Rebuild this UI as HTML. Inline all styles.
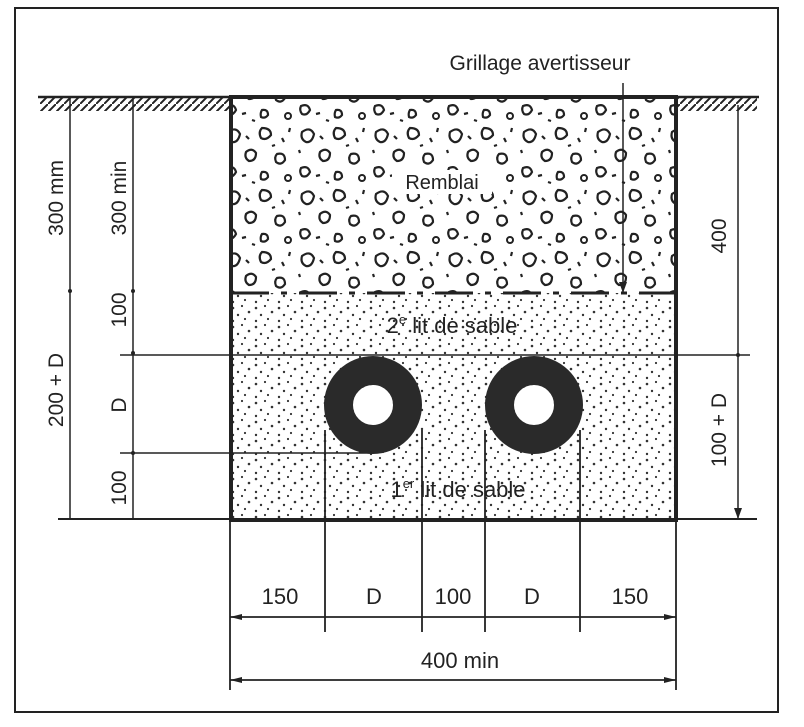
<!DOCTYPE html>
<html><head><meta charset="utf-8"><style>
body{margin:0;background:#fff}
svg{display:block}
text{font-family:"Liberation Sans",sans-serif;fill:#222}
</style></head><body>
<svg width="804" height="727" viewBox="0 0 804 727" xmlns="http://www.w3.org/2000/svg">
<defs>
<pattern id="sand" width="23" height="19" patternUnits="userSpaceOnUse">
<circle cx="3" cy="4" r="1.3" fill="#333"/><circle cx="12" cy="2" r="1.1" fill="#333"/>
<circle cx="19" cy="8" r="1.3" fill="#333"/><circle cx="8" cy="11" r="1.2" fill="#333"/>
<circle cx="15" cy="15" r="1.1" fill="#333"/><circle cx="3" cy="17" r="1.2" fill="#333"/>
</pattern>
<pattern id="grav" width="74" height="62" patternUnits="userSpaceOnUse">
<path d="M6 8q8-6 12 2q-2 9-8 8q-6-3-4-10z" fill="none" stroke="#222" stroke-width="2.2"/>
<path d="M40 4q9 0 9 7q-5 6-10 3q-3-6 1-10z" fill="none" stroke="#222" stroke-width="2.2"/>
<path d="M24 28q6-5 10 1q0 8-7 8q-5-3-3-9z" fill="none" stroke="#222" stroke-width="2.2"/>
<path d="M55 30q8-2 8 6q-4 6-9 2q-2-5 1-8z" fill="none" stroke="#222" stroke-width="2.2"/>
<path d="M5 44q7-3 9 4q-3 6-8 4q-3-4-1-8z" fill="none" stroke="#222" stroke-width="2.2"/>
<path d="M40 48q6-1 6 5q-3 4-7 2q-1-4 1-7z" fill="none" stroke="#222" stroke-width="2.2"/>
<ellipse cx="66" cy="54" rx="3" ry="3" fill="none" stroke="#222" stroke-width="2"/>
<path d="M24 12l3 3M60 14l2 4M20 52l4-1M3 26l1 3M50 22l3-1M68 4l-1 4M30 58l3 1" stroke="#222" stroke-width="2.2"/>
</pattern>
<pattern id="hatch" width="8" height="8" patternUnits="userSpaceOnUse">
<path d="M0 8L8 0" stroke="#222" stroke-width="2"/>
</pattern>
</defs>
<rect x="15" y="8" width="763" height="704" fill="none" stroke="#222" stroke-width="2"/>
<rect x="40" y="97" width="190" height="14" fill="url(#hatch)"/>
<rect x="676" y="97" width="81" height="14" fill="url(#hatch)"/>
<line x1="38" y1="97" x2="759" y2="97" stroke="#222" stroke-width="2.5"/>
<rect x="231" y="97" width="445" height="196" fill="url(#grav)"/>
<rect x="231" y="293" width="445" height="227" fill="url(#sand)"/>
<rect x="392" y="170" width="100" height="24" fill="#fff"/>
<line x1="231" y1="293" x2="676" y2="293" stroke="#222" stroke-width="3" stroke-dasharray="38,12,6,12"/>
<rect x="231" y="97" width="445" height="423" fill="none" stroke="#222" stroke-width="4"/>
<line x1="120" y1="355" x2="750" y2="355" stroke="#222" stroke-width="1.5"/>
<line x1="120" y1="453" x2="373" y2="453" stroke="#222" stroke-width="1.5"/>
<line x1="58" y1="519" x2="757" y2="519" stroke="#222" stroke-width="2"/>
<circle cx="373" cy="405" r="20" fill="#fff"/>
<circle cx="534" cy="405" r="20" fill="#fff"/>
<circle cx="373" cy="405" r="34.5" fill="none" stroke="#2a2a2a" stroke-width="29"/>
<circle cx="534" cy="405" r="34.5" fill="none" stroke="#2a2a2a" stroke-width="29"/>
<text x="452" y="333" font-size="22" text-anchor="middle">2<tspan font-size="13" dy="-9">e</tspan><tspan dy="9"> lit de sable</tspan></text>
<text x="458" y="497" font-size="22" text-anchor="middle">1<tspan font-size="13" dy="-9">er</tspan><tspan dy="9"> lit de sable</tspan></text>
<text x="442" y="189" font-size="20" text-anchor="middle">Remblai</text>
<text x="540" y="70" font-size="21" text-anchor="middle">Grillage avertisseur</text>
<line x1="623" y1="83" x2="623" y2="293" stroke="#222" stroke-width="1.5"/>
<path d="M619 282l4 11 4-11z" fill="#222"/>
<line x1="70" y1="97" x2="70" y2="519" stroke="#222" stroke-width="1.5"/>
<line x1="133" y1="97" x2="133" y2="519" stroke="#222" stroke-width="1.5"/>
<circle cx="70" cy="291" r="2" fill="#222"/><circle cx="133" cy="291" r="2" fill="#222"/>
<circle cx="133" cy="353" r="2" fill="#222"/><circle cx="133" cy="453" r="2" fill="#222"/>
<g font-size="21">
<text transform="translate(63,198) rotate(-90)" text-anchor="middle">300 mm</text>
<text transform="translate(126,198) rotate(-90)" text-anchor="middle">300 min</text>
<text transform="translate(126,310) rotate(-90)" text-anchor="middle">100</text>
<text transform="translate(126,405) rotate(-90)" text-anchor="middle">D</text>
<text transform="translate(126,488) rotate(-90)" text-anchor="middle">100</text>
<text transform="translate(63,390) rotate(-90)" text-anchor="middle">200 + D</text>
<text transform="translate(726,236) rotate(-90)" text-anchor="middle">400</text>
<text transform="translate(726,430) rotate(-90)" text-anchor="middle">100 + D</text>
</g>
<line x1="738" y1="105" x2="738" y2="519" stroke="#222" stroke-width="1.5"/>
<circle cx="738" cy="355" r="2" fill="#222"/>
<path d="M734 508l4 11 4-11z" fill="#222"/>
<g stroke="#222" stroke-width="1.8">
<line x1="230" y1="519" x2="230" y2="690"/>
<line x1="676" y1="519" x2="676" y2="690"/>
<line x1="325" y1="430" x2="325" y2="632"/>
<line x1="422" y1="430" x2="422" y2="632"/>
<line x1="485" y1="430" x2="485" y2="632"/>
<line x1="580" y1="430" x2="580" y2="632"/>
<line x1="230" y1="617" x2="676" y2="617"/>
<line x1="230" y1="680" x2="676" y2="680"/>
</g>
<g fill="#222"><path d="M230 617l12-3v6z"/><path d="M676 617l-12-3v6z"/><path d="M230 680l12-3v6z"/><path d="M676 680l-12-3v6z"/></g>
<g font-size="22" text-anchor="middle">
<text x="280" y="604">150</text><text x="374" y="604">D</text><text x="453" y="604">100</text>
<text x="532" y="604">D</text><text x="630" y="604">150</text><text x="460" y="668">400 min</text>
</g>
</svg>
</body></html>
